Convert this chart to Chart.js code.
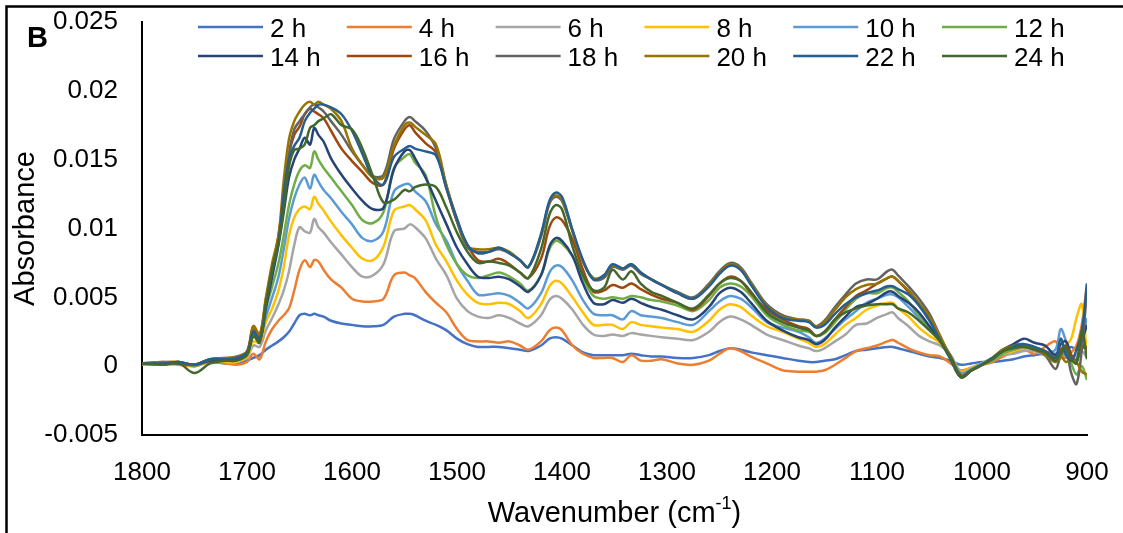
<!DOCTYPE html>
<html lang="en">
<head>
    <meta charset="UTF-8">
    <title>Absorbance spectra</title>
    <script src="https://cdn.jsdelivr.net/npm/chart.js"></script>
    <style>
        html, body { margin: 0; padding: 0; background: #fff; }
        #wrap { width: 1123px; height: 533px; }
    </style>
</head>
<body>
    <div id="wrap"><canvas id="spectra" width="1123" height="533"></canvas></div>

    <script>
        // wavenumber grid (cm-1)
        const wavenumbers = [
            1800, 1780, 1765, 1750, 1735, 1720, 1710, 1700,
            1694, 1688, 1682, 1676, 1670, 1665, 1660, 1655, 1650, 1645, 1640, 1636, 1632, 1627, 1620,
            1610, 1600, 1590, 1580, 1570, 1560, 1550, 1545, 1540, 1530, 1520, 1510, 1500, 1490, 1480,
            1470, 1460, 1450, 1440, 1432, 1420, 1412, 1406, 1400, 1390, 1380, 1370,
            1360, 1352, 1342, 1334, 1325, 1315, 1305, 1290, 1275, 1260, 1250,
            1240, 1230, 1220, 1205, 1190, 1175, 1165, 1158, 1150, 1140, 1130, 1120, 1110,
            1100, 1090, 1085, 1080, 1070, 1060, 1050, 1040, 1030, 1020, 1010, 1000,
            990, 980, 970, 960, 950, 940, 930, 925, 920, 915, 910, 905, 900
        ];

        const seriesNames = ['2 h', '4 h', '6 h', '8 h', '10 h', '12 h', '14 h', '16 h', '18 h', '20 h', '22 h', '24 h'];
        const seriesColors = ['#4472C4', '#ED7D31', '#A5A5A5', '#FFC000', '#5B9BD5', '#70AD47',
                              '#264478', '#9E480E', '#636363', '#997300', '#255E91', '#43682B'];

        const abs2h = [
            0.0002, 0.0001, 0.0002, 0.0001, 0.0003, 0.0002, 0.0002, 0.0004,
            0.0006, 0.0008, 0.0012, 0.0015, 0.0018, 0.0021, 0.0025, 0.0031, 0.0037, 0.0038, 0.0037, 0.0038, 0.0037, 0.0036, 0.0033,
            0.0031, 0.0030, 0.0029, 0.0029, 0.0030, 0.0036, 0.0038, 0.0038, 0.0037, 0.0033, 0.0030, 0.0026, 0.0020, 0.0016, 0.0014,
            0.0014, 0.0014, 0.0013, 0.0012, 0.0011, 0.0015, 0.0020, 0.0021, 0.0020, 0.0015, 0.0010, 0.0008,
            0.0008, 0.0008, 0.0008, 0.0009, 0.0008, 0.0007, 0.0007, 0.0006, 0.0006, 0.0008, 0.0011,
            0.0013, 0.0012, 0.0010, 0.0008, 0.0006, 0.0004, 0.0003, 0.0003, 0.0004, 0.0005, 0.0008, 0.0011, 0.0012,
            0.0013, 0.0014, 0.0014, 0.0013, 0.0011, 0.0009, 0.0007, 0.0006, 0.0004, 0.0001, 0.0002, 0.0003,
            0.0003, 0.0004, 0.0005, 0.0007, 0.0008, 0.0009, 0.0009, 0.0010, 0.0012, 0.0014, 0.0012, 0.0013, 0.0014
        ];
        const abs4h = [
            0.0001, 0.0002, 0.0001, 0.0000, 0.0003, 0.0002, 0.0001, 0.0003,
            0.0009, 0.0005, 0.0018, 0.0027, 0.0033, 0.0037, 0.0042, 0.0055, 0.0070, 0.0077, 0.0072, 0.0077, 0.0076, 0.0070, 0.0063,
            0.0057, 0.0049, 0.0047, 0.0047, 0.0049, 0.0066, 0.0068, 0.0066, 0.0064, 0.0054, 0.0046, 0.0039, 0.0027, 0.0019, 0.0018,
            0.0018, 0.0017, 0.0018, 0.0015, 0.0012, 0.0018, 0.0026, 0.0028, 0.0026, 0.0015, 0.0009, 0.0006,
            0.0006, 0.0006, 0.0003, 0.0008, 0.0004, 0.0004, 0.0005, 0.0002, 0.0001, 0.0004, 0.0009,
            0.0013, 0.0011, 0.0007, 0.0002, -0.0003, -0.0004, -0.0004, -0.0004, -0.0003, 0.0001, 0.0006, 0.0011, 0.0013,
            0.0015, 0.0018, 0.0019, 0.0017, 0.0013, 0.0010, 0.0008, 0.0007, 0.0002, -0.0003, -0.0001, 0.0001,
            0.0003, 0.0007, 0.0010, 0.0012, 0.0009, 0.0014, 0.0018, 0.0009, 0.0006, 0.0010, 0.0015, 0.0030, 0.0060
        ];
        const abs6h = [
            0.0002, 0.0001, 0.0002, 0.0001, 0.0004, 0.0003, 0.0003, 0.0006,
            0.0015, 0.0014, 0.0026, 0.0035, 0.0045, 0.0055, 0.0069, 0.0088, 0.0101, 0.0098, 0.0097, 0.0107, 0.0101, 0.0097, 0.0090,
            0.0081, 0.0072, 0.0065, 0.0066, 0.0074, 0.0098, 0.0100, 0.0103, 0.0101, 0.0093, 0.0078, 0.0066, 0.0049, 0.0040, 0.0036,
            0.0035, 0.0037, 0.0035, 0.0031, 0.0029, 0.0037, 0.0048, 0.0051, 0.0049, 0.0041, 0.0030, 0.0023,
            0.0022, 0.0023, 0.0022, 0.0024, 0.0023, 0.0022, 0.0021, 0.0020, 0.0019, 0.0025, 0.0032,
            0.0036, 0.0034, 0.0030, 0.0023, 0.0019, 0.0015, 0.0013, 0.0011, 0.0013, 0.0018, 0.0023, 0.0030, 0.0031,
            0.0035, 0.0038, 0.0039, 0.0035, 0.0029, 0.0022, 0.0018, 0.0015, 0.0008, -0.0004, -0.0001, 0.0002,
            0.0005, 0.0008, 0.0009, 0.0011, 0.0011, 0.0008, 0.0008, 0.0006, 0.0009, 0.0006, 0.0008, 0.0011, 0.0006
        ];
        const abs8h = [
            0.0002, 0.0002, 0.0002, 0.0000, 0.0004, 0.0003, 0.0003, 0.0007,
            0.0018, 0.0017, 0.0032, 0.0042, 0.0055, 0.0072, 0.0095, 0.0108, 0.0114, 0.0116, 0.0114, 0.0123, 0.0118, 0.0113, 0.0105,
            0.0095, 0.0086, 0.0078, 0.0077, 0.0087, 0.0113, 0.0116, 0.0117, 0.0114, 0.0106, 0.0088, 0.0076, 0.0062, 0.0052, 0.0046,
            0.0045, 0.0046, 0.0045, 0.0040, 0.0035, 0.0045, 0.0058, 0.0062, 0.0060, 0.0050, 0.0039, 0.0030,
            0.0030, 0.0030, 0.0027, 0.0032, 0.0030, 0.0029, 0.0028, 0.0027, 0.0025, 0.0033, 0.0041,
            0.0045, 0.0043, 0.0037, 0.0029, 0.0025, 0.0020, 0.0017, 0.0014, 0.0016, 0.0023, 0.0030, 0.0035, 0.0041,
            0.0044, 0.0046, 0.0046, 0.0042, 0.0036, 0.0028, 0.0022, 0.0017, 0.0008, -0.0004, -0.0001, 0.0002,
            0.0006, 0.0009, 0.0011, 0.0013, 0.0012, 0.0009, 0.0007, 0.0011, 0.0015, 0.0020, 0.0035, 0.0045, 0.0006
        ];
        const abs10h = [
            0.0002, 0.0002, 0.0003, 0.0001, 0.0004, 0.0004, 0.0004, 0.0008,
            0.0022, 0.0020, 0.0036, 0.0050, 0.0065, 0.0085, 0.0107, 0.0122, 0.0132, 0.0137, 0.0129, 0.0139, 0.0134, 0.0128, 0.0122,
            0.0112, 0.0103, 0.0093, 0.0091, 0.0098, 0.0127, 0.0132, 0.0132, 0.0127, 0.0120, 0.0103, 0.0091, 0.0074, 0.0062, 0.0052,
            0.0052, 0.0053, 0.0051, 0.0046, 0.0042, 0.0053, 0.0068, 0.0073, 0.0072, 0.0062, 0.0048, 0.0038,
            0.0037, 0.0037, 0.0034, 0.0040, 0.0037, 0.0036, 0.0035, 0.0032, 0.0030, 0.0040, 0.0047,
            0.0051, 0.0049, 0.0043, 0.0032, 0.0028, 0.0025, 0.0021, 0.0017, 0.0020, 0.0027, 0.0034, 0.0040, 0.0046,
            0.0049, 0.0052, 0.0052, 0.0050, 0.0043, 0.0035, 0.0027, 0.0019, 0.0008, -0.0005, -0.0002, 0.0002,
            0.0006, 0.0010, 0.0012, 0.0014, 0.0012, 0.0010, 0.0012, 0.0027, 0.0018, 0.0006, 0.0005, 0.0020, 0.0035
        ];
        const abs12h = [
            0.0002, 0.0001, 0.0003, 0.0000, 0.0004, 0.0004, 0.0004, 0.0009,
            0.0025, 0.0022, 0.0042, 0.0058, 0.0075, 0.0095, 0.0117, 0.0132, 0.0142, 0.0146, 0.0144, 0.0156, 0.0150, 0.0144, 0.0137,
            0.0127, 0.0117, 0.0106, 0.0104, 0.0112, 0.0144, 0.0152, 0.0154, 0.0148, 0.0139, 0.0108, 0.0088, 0.0074, 0.0066, 0.0064,
            0.0066, 0.0068, 0.0065, 0.0060, 0.0055, 0.0066, 0.0085, 0.0091, 0.0089, 0.0080, 0.0064, 0.0051,
            0.0049, 0.0050, 0.0049, 0.0051, 0.0050, 0.0048, 0.0047, 0.0044, 0.0040, 0.0048, 0.0057,
            0.0060, 0.0058, 0.0051, 0.0037, 0.0030, 0.0026, 0.0025, 0.0022, 0.0024, 0.0032, 0.0041, 0.0049, 0.0053,
            0.0053, 0.0057, 0.0057, 0.0054, 0.0047, 0.0037, 0.0028, 0.0019, 0.0007, -0.0007, -0.0003, 0.0001,
            0.0004, 0.0009, 0.0012, 0.0014, 0.0013, 0.0008, 0.0003, 0.0006, 0.0011, 0.0002, -0.0006, 0.0000, -0.0010
        ];
        const abs14h = [
            0.0002, 0.0002, 0.0002, 0.0001, 0.0004, 0.0004, 0.0005, 0.0009,
            0.0022, 0.0018, 0.0042, 0.0065, 0.0088, 0.0112, 0.0137, 0.0150, 0.0158, 0.0166, 0.0161, 0.0173, 0.0168, 0.0163, 0.0151,
            0.0139, 0.0129, 0.0120, 0.0114, 0.0115, 0.0143, 0.0156, 0.0157, 0.0151, 0.0137, 0.0120, 0.0103, 0.0086, 0.0074, 0.0065,
            0.0064, 0.0065, 0.0063, 0.0058, 0.0054, 0.0066, 0.0087, 0.0093, 0.0091, 0.0080, 0.0060, 0.0046,
            0.0045, 0.0048, 0.0046, 0.0049, 0.0046, 0.0043, 0.0041, 0.0037, 0.0034, 0.0043, 0.0053,
            0.0057, 0.0054, 0.0046, 0.0033, 0.0026, 0.0021, 0.0019, 0.0016, 0.0019, 0.0028, 0.0036, 0.0043, 0.0045,
            0.0049, 0.0054, 0.0054, 0.0051, 0.0046, 0.0039, 0.0029, 0.0019, 0.0007, -0.0007, -0.0003, 0.0001,
            0.0006, 0.0012, 0.0016, 0.0020, 0.0017, 0.0015, 0.0008, 0.0016, 0.0018, 0.0008, 0.0004, 0.0018, 0.0030
        ];
        const abs16h = [
            0.0002, 0.0002, 0.0003, 0.0001, 0.0005, 0.0005, 0.0006, 0.0010,
            0.0029, 0.0022, 0.0048, 0.0072, 0.0095, 0.0125, 0.0154, 0.0168, 0.0174, 0.0183, 0.0187, 0.0185, 0.0183, 0.0180, 0.0171,
            0.0158, 0.0149, 0.0141, 0.0133, 0.0132, 0.0158, 0.0172, 0.0175, 0.0170, 0.0162, 0.0155, 0.0129, 0.0105, 0.0088, 0.0077,
            0.0076, 0.0078, 0.0074, 0.0068, 0.0064, 0.0078, 0.0101, 0.0108, 0.0106, 0.0092, 0.0070, 0.0054,
            0.0055, 0.0059, 0.0057, 0.0060, 0.0056, 0.0052, 0.0049, 0.0046, 0.0041, 0.0051, 0.0060,
            0.0065, 0.0062, 0.0053, 0.0041, 0.0034, 0.0029, 0.0027, 0.0022, 0.0025, 0.0034, 0.0043, 0.0051, 0.0055,
            0.0060, 0.0064, 0.0065, 0.0062, 0.0054, 0.0045, 0.0034, 0.0021, 0.0007, -0.0007, -0.0003, 0.0001,
            0.0006, 0.0012, 0.0014, 0.0016, 0.0012, 0.0011, 0.0006, 0.0012, 0.0015, 0.0008, 0.0003, 0.0015, 0.0013
        ];
        const abs18h = [
            0.0002, 0.0003, 0.0002, 0.0001, 0.0005, 0.0006, 0.0006, 0.0010,
            0.0026, 0.0020, 0.0046, 0.0070, 0.0090, 0.0120, 0.0154, 0.0172, 0.0178, 0.0183, 0.0188, 0.0190, 0.0188, 0.0185, 0.0178,
            0.0168, 0.0156, 0.0146, 0.0138, 0.0139, 0.0165, 0.0178, 0.0181, 0.0178, 0.0171, 0.0158, 0.0131, 0.0105, 0.0086, 0.0083,
            0.0083, 0.0085, 0.0082, 0.0077, 0.0072, 0.0094, 0.0118, 0.0123, 0.0120, 0.0098, 0.0076, 0.0063,
            0.0064, 0.0072, 0.0070, 0.0073, 0.0067, 0.0063, 0.0059, 0.0054, 0.0050, 0.0060, 0.0069,
            0.0075, 0.0072, 0.0061, 0.0045, 0.0037, 0.0034, 0.0033, 0.0029, 0.0033, 0.0043, 0.0052, 0.0060, 0.0063,
            0.0063, 0.0069, 0.0070, 0.0066, 0.0058, 0.0049, 0.0038, 0.0022, 0.0006, -0.0008, -0.0003, 0.0001,
            0.0006, 0.0012, 0.0015, 0.0016, 0.0012, 0.0008, -0.0002, 0.0008, 0.0012, -0.0005, -0.0013, 0.0012, 0.0055
        ];
        const abs20h = [
            0.0002, 0.0003, 0.0003, 0.0001, 0.0005, 0.0006, 0.0007, 0.0011,
            0.0029, 0.0023, 0.0050, 0.0075, 0.0095, 0.0135, 0.0165, 0.0178, 0.0185, 0.0190, 0.0192, 0.0190, 0.0192, 0.0190, 0.0187,
            0.0178, 0.0158, 0.0146, 0.0137, 0.0137, 0.0160, 0.0175, 0.0177, 0.0174, 0.0168, 0.0161, 0.0131, 0.0107, 0.0087, 0.0085,
            0.0085, 0.0086, 0.0083, 0.0077, 0.0072, 0.0095, 0.0119, 0.0124, 0.0121, 0.0098, 0.0076, 0.0064,
            0.0066, 0.0073, 0.0071, 0.0074, 0.0068, 0.0063, 0.0059, 0.0053, 0.0049, 0.0059, 0.0068,
            0.0074, 0.0071, 0.0060, 0.0044, 0.0036, 0.0034, 0.0033, 0.0029, 0.0032, 0.0041, 0.0050, 0.0056, 0.0059,
            0.0060, 0.0064, 0.0065, 0.0062, 0.0055, 0.0046, 0.0036, 0.0022, 0.0006, -0.0008, -0.0003, 0.0001,
            0.0006, 0.0012, 0.0014, 0.0015, 0.0012, 0.0009, 0.0003, 0.0007, 0.0003, 0.0005, 0.0003, -0.0004, -0.0006
        ];
        const abs22h = [
            0.0002, 0.0002, 0.0003, 0.0001, 0.0005, 0.0005, 0.0006, 0.0010,
            0.0025, 0.0019, 0.0045, 0.0070, 0.0090, 0.0125, 0.0150, 0.0160, 0.0166, 0.0178, 0.0184, 0.0187, 0.0190, 0.0190, 0.0188,
            0.0183, 0.0171, 0.0154, 0.0137, 0.0132, 0.0152, 0.0158, 0.0160, 0.0158, 0.0156, 0.0153, 0.0129, 0.0107, 0.0088, 0.0082,
            0.0083, 0.0086, 0.0082, 0.0077, 0.0072, 0.0096, 0.0120, 0.0126, 0.0123, 0.0099, 0.0077, 0.0063,
            0.0066, 0.0074, 0.0071, 0.0074, 0.0068, 0.0063, 0.0059, 0.0053, 0.0049, 0.0058, 0.0067,
            0.0073, 0.0070, 0.0059, 0.0043, 0.0035, 0.0033, 0.0032, 0.0028, 0.0030, 0.0038, 0.0045, 0.0050, 0.0053,
            0.0055, 0.0058, 0.0058, 0.0056, 0.0052, 0.0044, 0.0033, 0.0019, 0.0005, -0.0008, -0.0003, 0.0001,
            0.0006, 0.0011, 0.0014, 0.0016, 0.0014, 0.0011, 0.0006, 0.0020, 0.0008, 0.0004, 0.0012, 0.0025, 0.0060
        ];
        const abs24h = [
            0.0002, 0.0001, 0.0002, -0.0005, 0.0002, 0.0004, 0.0004, 0.0008,
            0.0022, 0.0017, 0.0045, 0.0070, 0.0090, 0.0115, 0.0145, 0.0157, 0.0158, 0.0161, 0.0173, 0.0175, 0.0178, 0.0180, 0.0183,
            0.0175, 0.0172, 0.0158, 0.0138, 0.0119, 0.0121, 0.0128, 0.0127, 0.0130, 0.0132, 0.0130, 0.0115, 0.0097, 0.0083, 0.0075,
            0.0076, 0.0075, 0.0073, 0.0068, 0.0064, 0.0085, 0.0110, 0.0117, 0.0114, 0.0087, 0.0066, 0.0055,
            0.0057, 0.0070, 0.0063, 0.0069, 0.0060, 0.0054, 0.0051, 0.0046, 0.0042, 0.0052, 0.0060,
            0.0064, 0.0062, 0.0054, 0.0039, 0.0032, 0.0028, 0.0026, 0.0022, 0.0025, 0.0034, 0.0039, 0.0042, 0.0044,
            0.0045, 0.0045, 0.0045, 0.0042, 0.0039, 0.0033, 0.0026, 0.0018, 0.0006, -0.0008, -0.0003, 0.0001,
            0.0005, 0.0011, 0.0013, 0.0014, 0.0012, 0.0010, 0.0004, 0.0010, 0.0014, 0.0005, 0.0002, 0.0026, 0.0005
        ];

        const seriesValues = [abs2h, abs4h, abs6h, abs8h, abs10h, abs12h, abs14h, abs16h, abs18h, abs20h, abs22h, abs24h];

        const xTicks = [1800, 1700, 1600, 1500, 1400, 1300, 1200, 1100, 1000, 900];
        const yTicks = [-0.005, 0, 0.005, 0.01, 0.015, 0.02, 0.025];

        const FONT = '"Liberation Sans", Arial, sans-serif';

        const datasets = seriesValues.map((vals, i) => ({
            label: seriesNames[i],
            data: wavenumbers.map((w, j) => ({ x: w, y: vals[j] })),
            borderColor: seriesColors[i],
            backgroundColor: seriesColors[i],
            borderWidth: 2.5,
            pointRadius: 0,
            tension: 0.35,
            fill: false,
            order: seriesNames.length - i   // later series drawn on top
        }));

        // frame, panel letter, legend and axis titles
        const extras = {
            id: 'extras',
            beforeDraw(chart) {
                const c = chart.ctx;
                c.save();
                c.fillStyle = '#fff';
                c.fillRect(0, 0, chart.width, chart.height);
                c.strokeStyle = '#000';
                c.lineWidth = 2.5;
                c.beginPath();
                c.moveTo(6.5, chart.height);
                c.lineTo(6.5, 6.5);
                c.lineTo(chart.width, 6.5);
                c.stroke();
                c.restore();
            },
            afterDraw(chart) {
                const c = chart.ctx;
                const area = chart.chartArea;
                c.save();
                c.fillStyle = '#000';

                // panel letter
                c.font = 'bold 29px ' + FONT;
                c.textAlign = 'left';
                c.textBaseline = 'alphabetic';
                c.fillText('B', 27, 47);

                // legend, 6 columns x 2 rows
                c.font = '26px ' + FONT;
                chart.data.datasets.forEach((ds, i) => {
                    const col = i % 6, row = Math.floor(i / 6);
                    const x0 = 198 + col * 148.8;
                    const y0 = 27 + row * 29;
                    c.strokeStyle = ds.borderColor;
                    c.lineWidth = 2.5;
                    c.beginPath();
                    c.moveTo(x0, y0);
                    c.lineTo(x0 + 65, y0);
                    c.stroke();
                    c.fillStyle = '#000';
                    c.fillText(ds.label, x0 + 72, y0 + 9.5);
                });

                // x title with superscript
                const cx = (area.left + area.right) / 2;
                const main = 'Wavenumber (cm', sup = '-1', tail = ')';
                c.font = '29px ' + FONT;
                const w1 = c.measureText(main).width, w3 = c.measureText(tail).width;
                c.font = '18px ' + FONT;
                const w2 = c.measureText(sup).width;
                let x = cx - (w1 + w2 + w3) / 2;
                c.font = '29px ' + FONT;
                c.fillText(main, x, 522);
                x += w1;
                c.font = '18px ' + FONT;
                c.fillText(sup, x, 509);
                x += w2;
                c.font = '29px ' + FONT;
                c.fillText(tail, x, 522);

                // y title
                c.translate(34, (area.top + area.bottom) / 2);
                c.rotate(-Math.PI / 2);
                c.textAlign = 'center';
                c.fillText('Absorbance', 0, 0);
                c.restore();
            }
        };

        new Chart(document.getElementById('spectra'), {
            type: 'line',
            data: { datasets: datasets },
            options: {
                responsive: false,
                animation: false,
                devicePixelRatio: 1,
                layout: { padding: { left: 0, top: 22, right: 36, bottom: 0 } },
                plugins: {
                    legend: { display: false },
                    tooltip: { enabled: false }
                },
                scales: {
                    x: {
                        type: 'linear',
                        reverse: true,
                        min: 900,
                        max: 1800,
                        afterBuildTicks: (s) => { s.ticks = xTicks.map(v => ({ value: v })); },
                        afterFit: (s) => { s.height = 98; s.paddingLeft = 0; s.paddingRight = 0; },
                        grid: { display: false, drawTicks: false },
                        border: { display: true, color: '#000', width: 2 },
                        ticks: {
                            color: '#000',
                            font: { family: FONT, size: 26 },
                            padding: 22,
                            maxRotation: 0,
                            autoSkip: false,
                            callback: (v) => String(v)
                        }
                    },
                    y: {
                        min: -0.005,
                        max: 0.025,
                        afterBuildTicks: (s) => { s.ticks = yTicks.map(v => ({ value: v })); },
                        afterFit: (s) => { s.width = 142; s.paddingTop = 0; s.paddingBottom = 0; },
                        grid: { display: false, drawTicks: false },
                        border: { display: true, color: '#000', width: 2 },
                        ticks: {
                            color: '#000',
                            font: { family: FONT, size: 26 },
                            padding: 24,
                            autoSkip: false,
                            callback: (v) => String(parseFloat(Number(v).toFixed(4)))
                        }
                    }
                }
            },
            plugins: [extras]
        });
    </script>
</body>
</html>
